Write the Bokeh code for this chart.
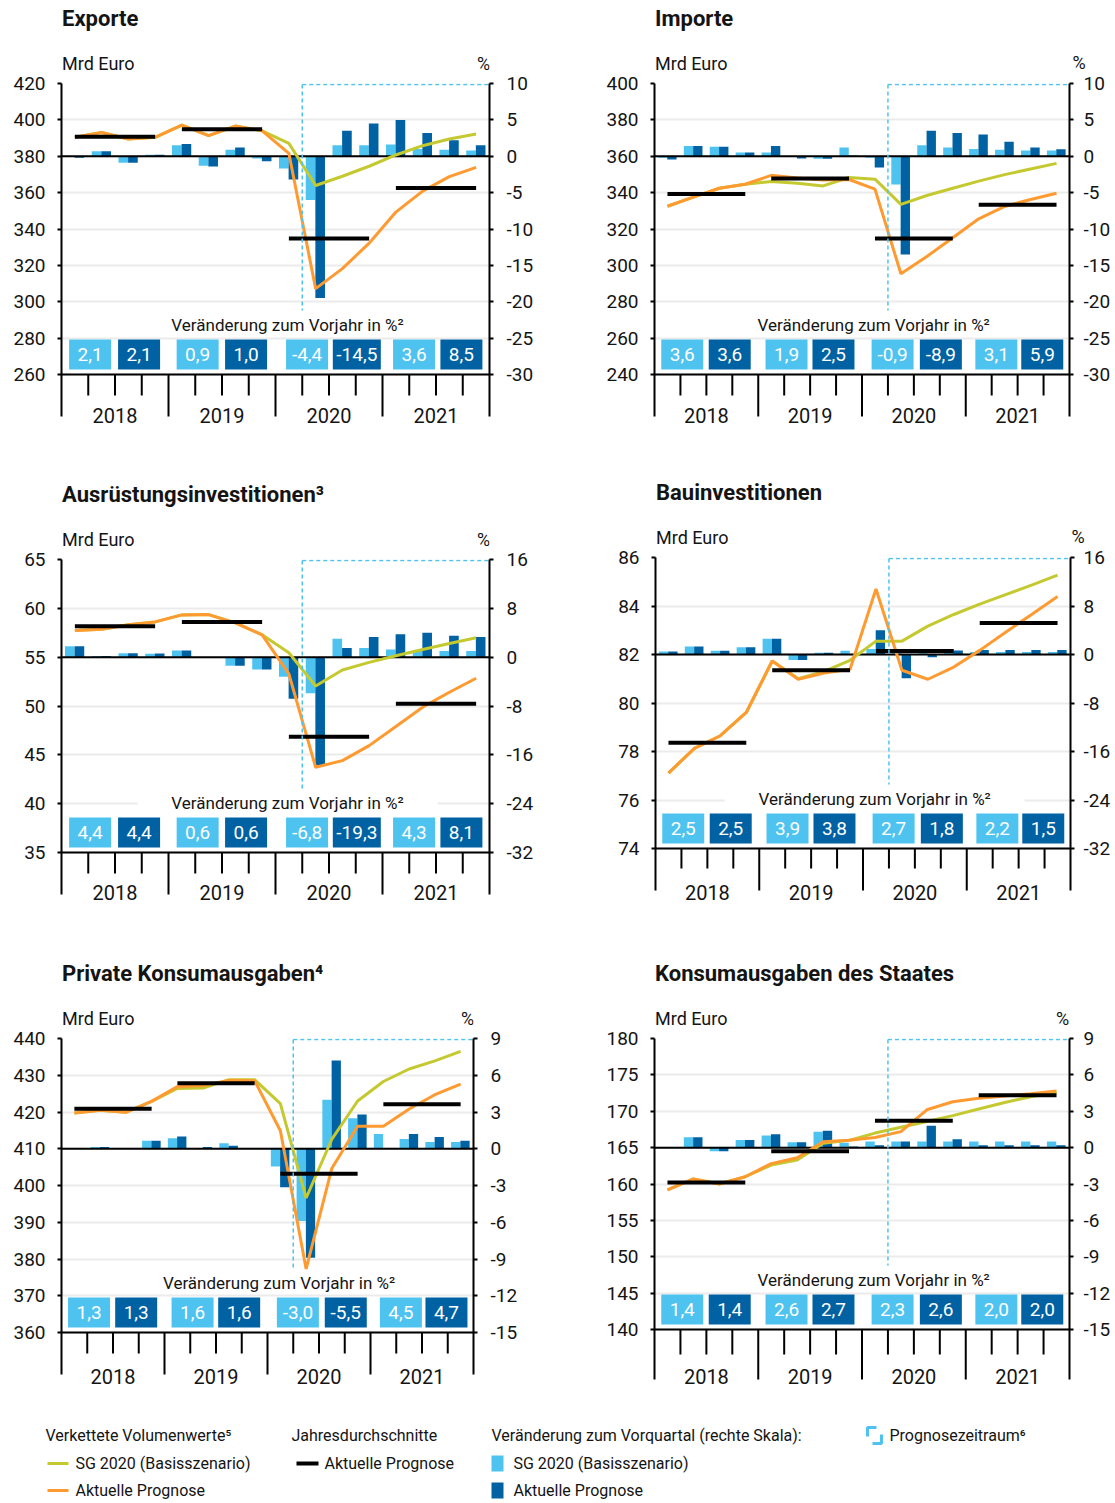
import numpy as np
from bokeh.plotting import figure
from bokeh.models import Range1d, LinearAxis, FixedTicker, CustomJSTickFormatter
from bokeh.layouts import column, row
from bokeh.embed import file_html
from bokeh.resources import INLINE
from bokeh.core.properties import value

FONT = "Roboto"
LIGHT = "#4EC3F0"
DARK = "#0062A3"
GREEN = "#C5C930"
ORANGE = "#FF9A30"
GRID = "#EBEBEB"
TXT = "#141414"

quarters = list(range(16))          # 2018Q1 ... 2021Q4
years = ["2018", "2019", "2020", "2021"]
forecast_start_q = 9                # 2020Q2

# ---------------- Exporte
exp_sg = [390.4, 393.1, 389.5, 390.4, 397.1, 391.3, 396.6, 394.0, 387.1, 363.9, 369.0, 374.5, 380.7, 385.8, 389.5, 392.2]
exp_akt = [390.4, 393.1, 389.5, 390.4, 397.1, 391.3, 396.6, 394.0, 381.6, 307.2, 318.2, 332.2, 349.3, 360.8, 368.8, 373.9]
exp_avg = [390.7, 394.8, 334.8, 362.6]
exp_q_sg = [-0.1, 0.7, -0.9, 0.2, 1.5, -1.3, 0.9, -0.3, -1.7, -6.0, 1.5, 1.5, 1.6, 1.0, 0.9, 0.8]
exp_q_akt = [-0.2, 0.7, -0.9, 0.2, 1.7, -1.4, 1.2, -0.7, -3.2, -19.5, 3.5, 4.5, 5.0, 3.2, 2.2, 1.5]
exp_y_sg = [2.1, 0.9, -4.4, 3.6]
exp_y_akt = [2.1, 1.0, -14.5, 8.5]

# ---------------- Importe
imp_sg = [332.5, 337.5, 342.4, 344.6, 346.1, 345.2, 343.7, 348.3, 347.4, 333.5, 338.4, 342.4, 346.3, 349.9, 353.0, 356.1]
imp_akt = [332.5, 337.5, 342.4, 344.6, 349.5, 348.1, 347.0, 347.2, 341.9, 295.4, 304.9, 315.2, 325.6, 332.4, 336.2, 339.7]
imp_avg = [339.3, 347.7, 314.8, 333.3]
imp_q_sg = [-0.2, 1.4, 1.3, 0.5, 0.5, -0.1, -0.35, 1.2, -0.2, -3.9, 1.5, 1.2, 1.0, 0.9, 0.8, 0.8]
imp_q_akt = [-0.45, 1.4, 1.3, 0.5, 1.4, -0.3, -0.35, 0.1, -1.55, -13.5, 3.5, 3.2, 3.0, 2.0, 1.2, 0.95]
imp_y_sg = [3.6, 1.9, -0.9, 3.1]
imp_y_akt = [3.6, 2.5, -8.9, 5.9]

# ---------------- Ausrüstungsinvestitionen
aus_sg = [57.73, 57.86, 58.31, 58.61, 59.33, 59.36, 58.51, 57.29, 55.45, 52.05, 53.69, 54.47, 55.15, 55.79, 56.40, 56.98]
aus_akt = [57.73, 57.86, 58.31, 58.61, 59.33, 59.36, 58.51, 57.29, 53.28, 43.73, 44.41, 45.94, 47.91, 49.88, 51.41, 52.84]
aus_avg = [58.17, 58.61, 46.86, 50.22]
aus_q_sg = [1.8, 0.2, 0.65, 0.55, 1.1, 0.0, -1.4, -2.0, -3.2, -5.9, 3.0, 1.5, 1.25, 1.1, 1.0, 1.0]
aus_q_akt = [1.8, 0.2, 0.65, 0.6, 1.1, 0.0, -1.4, -2.0, -6.8, -17.7, 1.5, 3.3, 3.75, 4.0, 3.5, 3.3]
aus_y_sg = [4.4, 0.6, -6.8, 4.3]
aus_y_akt = [4.4, 0.6, -19.3, 8.1]

# ---------------- Bauinvestitionen
bau_sg = [77.11, 78.13, 78.65, 79.61, 81.73, 81.0, 81.3, 81.76, 82.55, 82.55, 83.17, 83.65, 84.08, 84.47, 84.86, 85.27]
bau_akt = [77.11, 78.13, 78.65, 79.61, 81.73, 80.98, 81.24, 81.39, 84.70, 81.35, 80.98, 81.48, 82.17, 82.92, 83.65, 84.39]
bau_avg = [78.36, 81.35, 82.14, 83.30]
bau_q_sg = [0.5, 1.3, 0.6, 1.2, 2.6, -0.9, 0.3, 0.6, 0.9, 0.2, 0.2, 0.4, 0.4, 0.4, 0.4, 0.4]
bau_q_akt = [0.5, 1.3, 0.6, 1.2, 2.6, -0.9, 0.3, 0.1, 4.0, -3.9, -0.45, 0.65, 0.75, 0.75, 0.75, 0.75]
bau_y_sg = [2.5, 3.9, 2.7, 2.2]
bau_y_akt = [2.5, 3.8, 1.8, 1.5]

# ---------------- Private Konsumausgaben
pk_sg = [419.7, 420.5, 419.9, 422.9, 426.4, 426.5, 428.8, 428.8, 422.3, 396.6, 412.6, 423.0, 428.3, 431.7, 433.9, 436.5]
pk_akt = [419.7, 420.5, 419.9, 422.9, 426.9, 427.2, 428.6, 428.5, 414.9, 377.3, 404.7, 416.1, 416.1, 420.8, 424.7, 427.6]
pk_avg = [420.9, 427.8, 403.2, 422.1]
pk_q_sg = [0.05, 0.15, 0.0, 0.65, 0.85, 0.0, 0.45, 0.0, -1.45, -5.9, 4.0, 2.5, 1.2, 0.8, 0.55, 0.55]
pk_q_akt = [0.05, 0.15, -0.03, 0.65, 1.0, 0.15, 0.25, 0.0, -3.15, -8.9, 7.2, 2.8, 0.0, 1.2, 0.95, 0.65]
pk_y_sg = [1.3, 1.6, -3.0, 4.5]
pk_y_akt = [1.3, 1.6, -5.5, 4.7]

# ---------------- Konsumausgaben des Staates
st_sg = [159.2, 160.7, 160.0, 161.0, 162.6, 163.3, 165.6, 166.0, 167.0, 167.8, 168.6, 169.4, 170.3, 171.2, 172.0, 172.6]
st_akt = [159.2, 160.7, 160.0, 161.0, 162.8, 163.6, 165.8, 166.0, 166.4, 167.2, 170.2, 171.3, 171.8, 172.1, 172.4, 172.8]
st_avg = [160.2, 164.5, 168.7, 172.2]
st_q_sg = [0.0, 0.85, -0.3, 0.63, 1.0, 0.45, 1.3, 0.4, 0.5, 0.5, 0.5, 0.5, 0.5, 0.5, 0.5, 0.5]
st_q_akt = [0.0, 0.85, -0.3, 0.63, 1.1, 0.45, 1.4, 0.1, 0.2, 0.5, 1.8, 0.7, 0.2, 0.2, 0.2, 0.2]
st_y_sg = [1.4, 2.6, 2.3, 2.0]
st_y_akt = [1.4, 2.7, 2.6, 2.0]

LIGHT_BOX_X = [1.07, 5.09, 9.18, 13.18]
DARK_BOX_X = [2.9, 6.9, 11.04, 14.95]


def fmt(v):
    return f"{v:.1f}".replace(".", ",")


def style_axis(a, standoff):
    a.axis_line_color = "black"
    a.axis_line_width = 2
    a.major_tick_line_color = "black"
    a.major_tick_line_width = 2
    a.major_tick_out = 4
    a.major_tick_in = 0
    a.minor_tick_out = 0
    a.minor_tick_in = 0
    a.major_label_text_font = FONT
    a.major_label_text_font_size = "19px"
    a.major_label_text_color = TXT
    a.major_label_standoff = standoff
    a.formatter = CustomJSTickFormatter(code="return tick.toString()")


def blank(width, height):
    f = figure(width=width, height=height, x_range=Range1d(0, width), y_range=Range1d(height, 0),
               output_backend="svg", toolbar_location=None, title=None,
               x_axis_location=None, y_axis_location=None, min_border=0,
               outline_line_color=None, background_fill_color="white",
               border_fill_color="white")
    f.grid.visible = False
    return f


def make_header(c):
    W, hh, bl, fw = c["W"], c["hh"], c["bl"], c["fw"]
    qw = fw / 16.0
    h = figure(width=W, height=hh, x_range=Range1d(0, 16), y_range=Range1d(hh, 0),
               output_backend="svg", toolbar_location=None, title=None,
               x_axis_location=None, y_axis_location=None,
               min_border_left=bl, min_border_right=W - bl - fw,
               min_border_top=0, min_border_bottom=0,
               outline_line_color=None, background_fill_color="white",
               border_fill_color="white")
    h.grid.visible = False
    y_title = hh - 55
    y_unit = hh - 10
    h.text(x=[0.02], y=[y_title], text=[c["title"]], text_color=TXT,
           text_align="left", text_baseline="middle", text_font=value(FONT),
           text_font_style="bold", text_font_size="22px")
    h.text(x=[0.02], y=[y_unit], text=["Mrd Euro"], text_color=TXT,
           text_align="left", text_baseline="middle", text_font=value(FONT),
           text_font_size="18px")
    if c["pct_dx"] < 0:
        h.text(x=[16 + c["pct_dx"] / qw], y=[y_unit], text=["%"], text_color=TXT,
               text_align="center", text_baseline="middle", text_font=value(FONT),
               text_font_size="18px")
    else:
        ax = LinearAxis(ticker=FixedTicker(ticks=[y_unit]))
        ax.formatter = CustomJSTickFormatter(code="return '%'")
        ax.axis_line_color = None
        ax.major_tick_line_color = None
        ax.minor_tick_line_color = None
        ax.major_tick_out = 0
        ax.major_tick_in = 0
        ax.major_label_standoff = max(c["pct_dx"] - 6, 0)
        ax.major_label_text_font = FONT
        ax.major_label_text_font_size = "18px"
        ax.major_label_text_color = TXT
        h.add_layout(ax, "right")
    return h


def make_panel(c):
    lo, hi, st = c["left"]
    plo, phi, pst = c["right"]
    W, H, bl, fw, fh, E = c["W"], c["H"], c["bl"], c["fw"], c["fh"], c["E"]
    BT = 10
    upp = (hi - lo) / fh
    pupp = (phi - plo) / fh

    def yd(off):
        return hi - off * upp

    p = figure(width=W, height=H, x_range=Range1d(0, 16),
               y_range=Range1d(lo - E * upp, hi),
               output_backend="svg", toolbar_location=None, title=None,
               x_axis_location=None,
               min_border_left=bl, min_border_right=W - bl - fw,
               min_border_top=BT, min_border_bottom=H - BT - fh - E,
               outline_line_color=None, background_fill_color="white",
               border_fill_color="white")
    p.extra_y_ranges = {"pct": Range1d(plo - E * pupp, phi)}
    lt = list(range(lo, hi + 1, st))
    rt = list(range(plo, phi + 1, pst))

    ya = p.yaxis[0]
    ya.ticker = FixedTicker(ticks=lt)
    ya.bounds = (lo - c["tlong"] * upp, hi)
    style_axis(ya, 12)

    ra = LinearAxis(y_range_name="pct", ticker=FixedTicker(ticks=rt))
    ra.bounds = (plo - c["tlong"] * pupp, phi)
    style_axis(ra, c["rstand"])
    p.add_layout(ra, "right")

    p.ygrid.ticker = FixedTicker(ticks=lt)
    p.ygrid.grid_line_color = GRID
    p.ygrid.grid_line_width = 2
    p.xgrid.visible = False

    # quarter axis below the plot
    qb = [k for k in range(1, 16) if k % 4]
    yb_ = [4, 8, 12]
    p.segment(x0=[0], x1=[16], y0=[lo], y1=[lo], line_color="black", line_width=2)
    p.segment(x0=qb, x1=qb, y0=[lo] * len(qb), y1=[lo - c["tshort"] * upp] * len(qb),
              line_color="black", line_width=2)
    p.segment(x0=yb_, x1=yb_, y0=[lo] * 3, y1=[lo - c["tlong"] * upp] * 3,
              line_color="black", line_width=2)
    p.text(x=[4 * i + 2 for i in range(4)], y=[lo - c["year_dy"] * upp] * 4, text=years,
           text_color=TXT, text_align="center", text_baseline="middle",
           text_font=value(FONT), text_font_size="20px")

    xs = np.array(quarters, dtype=float)
    p.vbar(x=xs + 0.31, top=c["qsg"], bottom=0, width=0.36, y_range_name="pct",
           fill_color=LIGHT, line_color=None)
    p.vbar(x=xs + 0.67, top=c["qakt"], bottom=0, width=0.36, y_range_name="pct",
           fill_color=DARK, line_color=None)
    p.segment(x0=[0], y0=[0], x1=[16], y1=[0], y_range_name="pct",
              line_color="black", line_width=2)

    p.line(xs + 0.5, c["sg"], line_color=GREEN, line_width=3)
    p.line(xs + 0.5, c["akt"], line_color=ORANGE, line_width=3)

    ys = np.arange(4) * 4.0
    p.segment(x0=ys + 0.5, x1=ys + 3.5, y0=c["avg"], y1=c["avg"],
              line_color="black", line_width=4)

    ytop = yd(1)
    ybot = yd(fh - 64)
    p.segment(x0=[forecast_start_q, forecast_start_q], y0=[ytop, ytop],
              x1=[16, forecast_start_q], y1=[ytop, ybot],
              line_color=LIGHT, line_width=1.5, line_dash="4 3")

    # Veränderung zum Vorjahr
    yv = yd(fh - 50)
    p.rect(x=[8.45], y=[yv], width=[300], height=[22], width_units="screen",
           height_units="screen", fill_color="white", line_color=None)
    p.text(x=[8.45], y=[yv], text=["Veränderung zum Vorjahr in %²"], text_color=TXT,
           text_align="center", text_baseline="middle", text_font=value(FONT),
           text_font_size="17px")

    yb = yd(fh - 20)
    for xpos, vals, col in ((LIGHT_BOX_X, c["ysg"], LIGHT), (DARK_BOX_X, c["yakt"], DARK)):
        txt = [fmt(v) for v in vals]
        wd = [42 if len(t) <= 4 else 48 for t in txt]
        p.rect(x=xpos, y=[yb] * 4, width=wd, height=[30] * 4, width_units="screen",
               height_units="screen", fill_color=col, line_color=None)
        p.text(x=xpos, y=[yb] * 4, text=txt, text_color="white", text_align="center",
               text_baseline="middle", text_font=value(FONT), text_font_size="19px")
    return p


LW, RW = 596, 517
cfgs = [
    dict(title="Exporte", left=(260, 420, 20), right=(-30, 10, 5),
         sg=exp_sg, akt=exp_akt, avg=exp_avg, qsg=exp_q_sg, qakt=exp_q_akt,
         ysg=exp_y_sg, yakt=exp_y_akt,
         W=LW, hh=73, H=397, bl=61, fw=428, fh=291, E=56, pct_dx=-6, year_dy=41,
         rstand=13, tlong=42, tshort=21),
    dict(title="Importe", left=(240, 400, 20), right=(-30, 10, 5),
         sg=imp_sg, akt=imp_akt, avg=imp_avg, qsg=imp_q_sg, qakt=imp_q_akt,
         ysg=imp_y_sg, yakt=imp_y_akt,
         W=RW, hh=73, H=397, bl=58, fw=417, fh=291, E=56, pct_dx=9, year_dy=41,
         rstand=10, tlong=42, tshort=21),
    dict(title="Ausrüstungsinvestitionen³", left=(35, 65, 5), right=(-32, 16, 8),
         sg=aus_sg, akt=aus_akt, avg=aus_avg, qsg=aus_q_sg, qakt=aus_q_akt,
         ysg=aus_y_sg, yakt=aus_y_akt,
         W=LW, hh=79, H=399, bl=61, fw=428, fh=293, E=56, pct_dx=-6, year_dy=40,
         rstand=13, tlong=42, tshort=21),
    dict(title="Bauinvestitionen", left=(74, 86, 2), right=(-32, 16, 8),
         sg=bau_sg, akt=bau_akt, avg=bau_avg, qsg=bau_q_sg, qakt=bau_q_akt,
         ysg=bau_y_sg, yakt=bau_y_akt,
         W=RW, hh=77, H=401, bl=59, fw=418, fh=291, E=60, pct_dx=7, year_dy=44,
         rstand=9, tlong=42, tshort=20),
    dict(title="Private Konsumausgaben⁴", left=(360, 440, 10), right=(-15, 9, 3),
         sg=pk_sg, akt=pk_akt, avg=pk_avg, qsg=pk_q_sg, qakt=pk_q_akt,
         ysg=pk_y_sg, yakt=pk_y_akt,
         W=LW, hh=80, H=382, bl=61, fw=412, fh=294, E=58, pct_dx=-6, year_dy=44,
         rstand=13, tlong=42, tshort=21),
    dict(title="Konsumausgaben des Staates", left=(140, 180, 5), right=(-15, 9, 3),
         sg=st_sg, akt=st_akt, avg=st_avg, qsg=st_q_sg, qakt=st_q_akt,
         ysg=st_y_sg, yakt=st_y_akt,
         W=RW, hh=80, H=382, bl=58, fw=417, fh=291, E=62, pct_dx=-7, year_dy=47,
         rstand=10, tlong=50, tshort=25),
]
panels = [column(make_header(c), make_panel(c)) for c in cfgs]

# ---------------- Legend
LEGW, LEGH = LW + RW, 90
leg = blank(LEGW, LEGH)
r1, r2, r3 = 25, 53, 80
leg.text(x=[45, 291, 491, 889, 75, 324, 513, 75, 513],
         y=[r1, r1, r1, r1, r2, r2, r2, r3, r3],
         text=["Verkettete Volumenwerte⁵", "Jahresdurchschnitte",
               "Veränderung zum Vorquartal (rechte Skala):", "Prognosezeitraum⁶",
               "SG 2020 (Basisszenario)", "Aktuelle Prognose", "SG 2020 (Basisszenario)",
               "Aktuelle Prognose", "Aktuelle Prognose"],
         text_color=TXT, text_baseline="middle", text_align="left",
         text_font=value(FONT), text_font_size="16px")
leg.segment(x0=[47, 296, 47], x1=[68, 318, 68], y0=[r2, r2, r3], y1=[r2, r2, r3],
            line_color=[GREEN, "black", ORANGE], line_width=[3, 4, 3])
leg.rect(x=[497, 497], y=[r2, r3], width=[12, 12], height=[16, 16],
         fill_color=[LIGHT, DARK], line_color=None)
leg.multi_line(xs=[[867, 867, 876], [881, 881, 872]],
               ys=[[r1 + 1, r1 - 8, r1 - 8], [r1 - 1, r1 + 8, r1 + 8]],
               line_color=LIGHT, line_width=3)

layout = column(row(panels[0], panels[1]), row(panels[2], panels[3]),
                row(panels[4], panels[5]), leg)
open("out.html", "w").write(file_html(layout, INLINE))
